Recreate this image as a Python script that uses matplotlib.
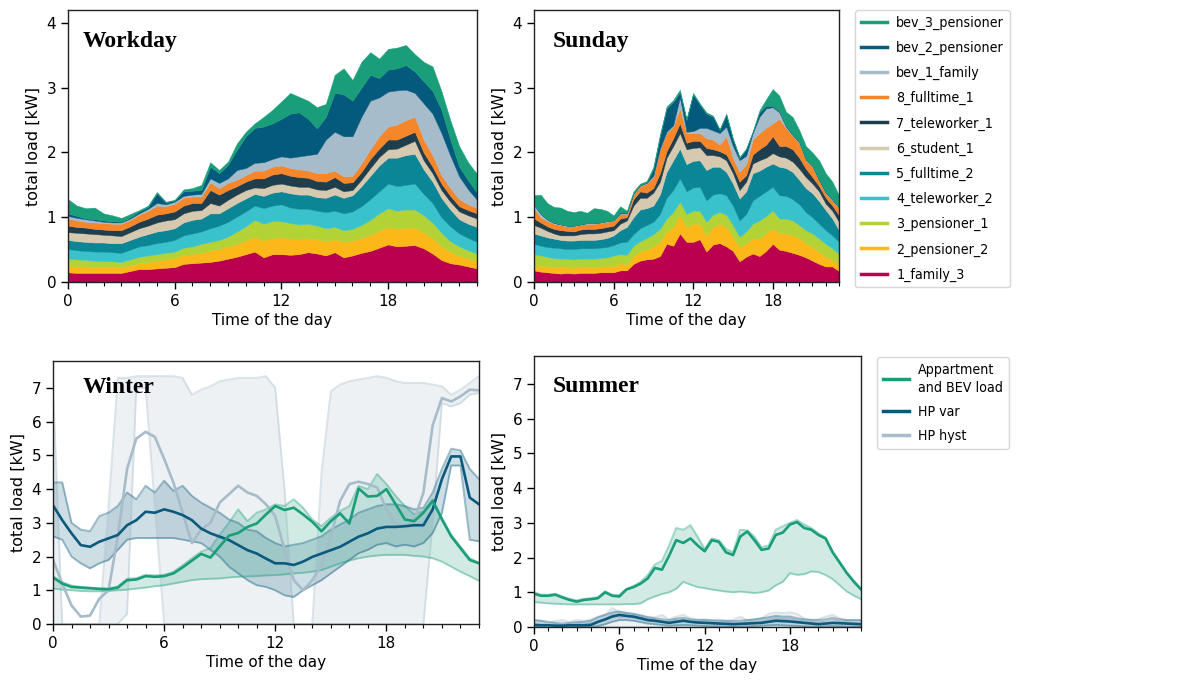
import matplotlib
matplotlib.use("Agg")
import matplotlib.pyplot as plt
from matplotlib.lines import Line2D
from matplotlib.font_manager import FontProperties
import numpy as np

# time axis: half-hourly values 0 .. 23 h
hours = np.arange(0, 23.01, 0.5)

# ---------------- stacked household loads [kW] ----------------
household_names = ['1_family_3', '2_pensioner_2', '3_pensioner_1', '4_teleworker_2',
                   '5_fulltime_2', '6_student_1', '7_teleworker_1', '8_fulltime_1',
                   'bev_1_family', 'bev_2_pensioner', 'bev_3_pensioner']
household_colors = ['#BC0050', '#FBB818', '#B2D235', '#3AC2CC', '#0A8696', '#D7C9AF',
                    '#1E3E4E', '#F5862A', '#A6BCCB', '#045A7D', '#1A9E7A']

wd_family3 = [0.15,0.14,0.14,0.14,0.14,0.14,0.14,0.17,0.20,0.20,0.21,0.22,0.23,0.28,0.29,0.30,0.31,0.33,0.36,0.39,0.43,0.47,0.38,0.43,0.43,0.42,0.43,0.46,0.44,0.41,0.46,0.38,0.41,0.45,0.48,0.53,0.58,0.55,0.56,0.57,0.52,0.44,0.34,0.29,0.27,0.24,0.21]
wd_pensioner2 = [0.10,0.10,0.10,0.09,0.09,0.09,0.09,0.09,0.09,0.11,0.12,0.13,0.14,0.14,0.14,0.15,0.17,0.18,0.19,0.20,0.21,0.23,0.26,0.25,0.26,0.25,0.24,0.22,0.22,0.22,0.20,0.24,0.23,0.23,0.25,0.26,0.27,0.27,0.28,0.27,0.25,0.24,0.21,0.18,0.14,0.13,0.11]
wd_pensioner1 = [0.11,0.11,0.10,0.10,0.09,0.09,0.08,0.09,0.10,0.10,0.10,0.10,0.10,0.11,0.12,0.14,0.14,0.14,0.15,0.19,0.22,0.26,0.26,0.26,0.25,0.24,0.22,0.22,0.21,0.20,0.19,0.18,0.18,0.20,0.23,0.27,0.29,0.28,0.28,0.28,0.26,0.24,0.21,0.16,0.14,0.12,0.12]
wd_teleworker2 = [0.15,0.14,0.14,0.14,0.15,0.14,0.14,0.15,0.16,0.16,0.17,0.17,0.18,0.19,0.20,0.19,0.21,0.22,0.23,0.23,0.23,0.22,0.24,0.24,0.26,0.24,0.24,0.23,0.23,0.25,0.25,0.26,0.27,0.29,0.32,0.34,0.38,0.38,0.38,0.40,0.33,0.30,0.24,0.23,0.20,0.19,0.18]
wd_fulltime2 = [0.14,0.14,0.14,0.14,0.14,0.14,0.15,0.15,0.15,0.17,0.18,0.18,0.18,0.20,0.21,0.20,0.23,0.19,0.21,0.21,0.20,0.18,0.19,0.20,0.20,0.22,0.22,0.22,0.21,0.22,0.25,0.24,0.25,0.31,0.36,0.40,0.40,0.44,0.46,0.46,0.38,0.33,0.30,0.26,0.22,0.22,0.23]
wd_student1 = [0.12,0.13,0.13,0.13,0.12,0.12,0.11,0.12,0.13,0.13,0.14,0.15,0.14,0.14,0.14,0.13,0.16,0.12,0.13,0.13,0.13,0.10,0.12,0.12,0.12,0.12,0.12,0.12,0.12,0.12,0.12,0.10,0.08,0.10,0.12,0.13,0.13,0.14,0.16,0.20,0.14,0.13,0.12,0.12,0.12,0.13,0.13]
wd_teleworker1 = [0.10,0.09,0.09,0.08,0.08,0.08,0.09,0.09,0.10,0.11,0.12,0.11,0.12,0.12,0.12,0.11,0.20,0.17,0.15,0.13,0.13,0.14,0.15,0.16,0.16,0.15,0.15,0.14,0.13,0.13,0.15,0.13,0.12,0.12,0.14,0.13,0.15,0.14,0.14,0.14,0.12,0.10,0.10,0.09,0.08,0.08,0.08]
wd_fulltime1 = [0.11,0.10,0.09,0.10,0.10,0.10,0.10,0.10,0.11,0.12,0.14,0.11,0.12,0.12,0.10,0.10,0.12,0.10,0.11,0.10,0.10,0.12,0.12,0.12,0.12,0.12,0.12,0.11,0.12,0.13,0.10,0.10,0.10,0.13,0.15,0.19,0.20,0.23,0.24,0.23,0.20,0.18,0.13,0.12,0.11,0.09,0.08]
wd_bev1 = [0.04,0.04,0.04,0.03,0.02,0.02,0.02,0.02,0.02,0.03,0.04,0.03,0.03,0.03,0.03,0.04,0.06,0.08,0.07,0.15,0.11,0.12,0.13,0.12,0.14,0.16,0.20,0.24,0.30,0.52,0.60,0.62,0.61,0.72,0.75,0.60,0.54,0.53,0.47,0.37,0.56,0.64,0.65,0.50,0.35,0.23,0.13]
wd_bev2 = [0.04,0.03,0.01,0.02,0.02,0.02,0.01,0.02,0.03,0.03,0.15,0.03,0.02,0.07,0.06,0.06,0.18,0.15,0.21,0.31,0.49,0.54,0.55,0.55,0.58,0.68,0.68,0.56,0.39,0.35,0.60,0.65,0.55,0.45,0.40,0.30,0.34,0.34,0.38,0.33,0.34,0.35,0.36,0.25,0.15,0.14,0.11]
wd_bev3 = [0.22,0.16,0.16,0.18,0.11,0.09,0.06,0.05,0.02,0.02,0.02,0.01,0.01,0.03,0.04,0.08,0.07,0.05,0.05,0.10,0.07,0.07,0.15,0.21,0.27,0.32,0.24,0.28,0.33,0.20,0.28,0.40,0.32,0.40,0.35,0.30,0.32,0.32,0.31,0.27,0.30,0.38,0.29,0.30,0.32,0.28,0.29]

su_family3 = [0.18,0.16,0.15,0.14,0.13,0.14,0.13,0.14,0.14,0.14,0.15,0.15,0.15,0.18,0.18,0.28,0.33,0.35,0.36,0.40,0.59,0.56,0.75,0.62,0.62,0.66,0.47,0.58,0.60,0.55,0.48,0.32,0.39,0.44,0.40,0.48,0.59,0.50,0.48,0.45,0.42,0.38,0.33,0.28,0.24,0.24,0.17]
su_pensioner2 = [0.08,0.09,0.09,0.09,0.10,0.09,0.09,0.09,0.09,0.09,0.09,0.09,0.10,0.11,0.09,0.12,0.14,0.15,0.19,0.22,0.19,0.29,0.28,0.23,0.28,0.24,0.25,0.27,0.30,0.30,0.22,0.22,0.21,0.23,0.27,0.27,0.24,0.26,0.27,0.27,0.26,0.22,0.21,0.19,0.15,0.11,0.09]
su_pensioner1 = [0.17,0.16,0.15,0.14,0.13,0.13,0.13,0.13,0.13,0.13,0.13,0.14,0.16,0.14,0.15,0.16,0.16,0.18,0.19,0.20,0.20,0.23,0.21,0.20,0.20,0.20,0.21,0.19,0.18,0.19,0.18,0.16,0.18,0.23,0.28,0.27,0.28,0.22,0.23,0.23,0.20,0.20,0.21,0.20,0.20,0.17,0.18]
su_teleworker2 = [0.16,0.15,0.15,0.16,0.16,0.15,0.16,0.16,0.16,0.16,0.16,0.16,0.16,0.18,0.20,0.18,0.20,0.20,0.19,0.23,0.32,0.34,0.36,0.35,0.36,0.37,0.33,0.31,0.29,0.30,0.30,0.25,0.27,0.36,0.38,0.38,0.36,0.36,0.35,0.33,0.32,0.28,0.25,0.23,0.21,0.20,0.18]
su_fulltime2 = [0.16,0.16,0.15,0.14,0.13,0.13,0.13,0.13,0.13,0.13,0.13,0.14,0.15,0.19,0.23,0.26,0.29,0.26,0.25,0.30,0.40,0.46,0.46,0.42,0.41,0.41,0.47,0.43,0.41,0.36,0.34,0.34,0.35,0.42,0.39,0.38,0.36,0.44,0.43,0.42,0.38,0.37,0.37,0.35,0.31,0.26,0.18]
su_student1 = [0.13,0.12,0.10,0.08,0.07,0.08,0.08,0.09,0.10,0.10,0.10,0.10,0.08,0.10,0.10,0.18,0.18,0.16,0.20,0.20,0.22,0.22,0.24,0.23,0.20,0.20,0.23,0.18,0.16,0.18,0.16,0.13,0.15,0.15,0.16,0.14,0.16,0.16,0.16,0.16,0.17,0.17,0.15,0.15,0.10,0.12,0.13]
su_teleworker1 = [0.10,0.08,0.07,0.07,0.08,0.07,0.06,0.07,0.07,0.07,0.07,0.07,0.07,0.08,0.05,0.10,0.10,0.08,0.07,0.13,0.10,0.12,0.15,0.10,0.11,0.10,0.11,0.09,0.08,0.09,0.10,0.13,0.10,0.14,0.17,0.20,0.26,0.16,0.18,0.19,0.17,0.13,0.10,0.08,0.09,0.08,0.10]
su_fulltime1 = [0.16,0.08,0.08,0.08,0.08,0.07,0.08,0.08,0.08,0.08,0.08,0.08,0.07,0.07,0.05,0.07,0.08,0.14,0.17,0.37,0.28,0.18,0.23,0.15,0.12,0.12,0.15,0.15,0.10,0.28,0.14,0.15,0.17,0.23,0.25,0.26,0.20,0.42,0.28,0.21,0.23,0.13,0.16,0.08,0.07,0.08,0.11]
su_bev1 = [0.05,0.05,0.02,0.01,0.01,0.01,0.01,0.00,0.01,0.01,0.01,0.01,0.01,0.01,0.01,0.01,0.01,0.01,0.02,0.01,0.02,0.02,0.17,0.02,0.03,0.08,0.16,0.14,0.18,0.15,0.18,0.18,0.13,0.10,0.25,0.30,0.25,0.10,0.02,0.01,0.01,0.01,0.01,0.01,0.01,0.01,0.01]
su_bev2 = [0.01,0.01,0.01,0.01,0.00,0.00,0.00,0.00,0.00,0.00,0.00,0.00,0.01,0.02,0.01,0.01,0.01,0.01,0.10,0.19,0.36,0.36,0.08,0.18,0.57,0.36,0.22,0.21,0.05,0.18,0.10,0.04,0.10,0.02,0.07,0.04,0.02,0.02,0.02,0.01,0.01,0.01,0.01,0.01,0.01,0.01,0.01]
su_bev3 = [0.14,0.29,0.25,0.24,0.26,0.23,0.21,0.21,0.16,0.23,0.21,0.16,0.07,0.09,0.03,0.03,0.02,0.02,0.04,0.03,0.03,0.03,0.04,0.02,0.02,0.02,0.02,0.02,0.01,0.02,0.02,0.01,0.01,0.01,0.03,0.10,0.26,0.24,0.21,0.27,0.18,0.20,0.20,0.30,0.29,0.27,0.18]

# ---------------- seasonal profiles: mean and band [kW] ----------------
season_names = ['Appartment\nand BEV load', 'HP var', 'HP hyst']
season_colors = ['#1A9E79', '#0B5A7E', '#A6BCCA']

wi_app_mean = [1.38,1.20,1.10,1.08,1.06,1.04,1.03,1.08,1.30,1.32,1.42,1.40,1.42,1.50,1.68,1.88,2.08,1.97,2.30,2.62,2.70,2.88,2.98,3.25,3.50,3.38,3.45,3.25,3.03,2.75,3.05,3.28,2.98,4.02,3.78,3.80,4.00,3.55,3.10,3.05,3.30,3.65,3.10,2.60,2.25,1.90,1.80]
wi_app_hi = [1.42,1.24,1.14,1.10,1.08,1.06,1.05,1.12,1.34,1.36,1.46,1.44,1.46,1.55,1.74,1.95,2.15,2.25,2.65,3.00,3.40,3.05,3.30,3.40,3.55,3.50,3.70,3.45,3.10,2.90,3.15,3.35,3.50,4.10,4.00,4.45,4.15,3.80,3.50,3.25,3.35,3.70,3.15,2.65,2.30,1.95,1.82]
wi_app_lo = [1.05,1.02,1.00,0.98,0.97,0.97,0.98,1.00,1.02,1.05,1.08,1.12,1.15,1.20,1.25,1.30,1.33,1.34,1.35,1.38,1.40,1.41,1.42,1.44,1.45,1.47,1.50,1.52,1.55,1.60,1.70,1.80,1.88,1.95,2.00,2.03,2.05,2.05,2.05,2.02,2.00,1.95,1.85,1.70,1.55,1.42,1.28]
wi_var_mean = [3.52,3.08,2.69,2.34,2.29,2.44,2.54,2.64,2.93,3.08,3.33,3.30,3.40,3.33,3.23,3.08,2.83,2.69,2.59,2.49,2.34,2.19,2.09,1.94,1.80,1.80,1.75,1.85,1.99,2.09,2.19,2.29,2.44,2.59,2.69,2.83,2.88,2.88,2.90,2.93,2.93,3.40,4.30,4.97,4.97,3.75,3.55]
wi_var_hi = [4.20,4.20,3.00,2.80,2.75,3.20,3.30,3.50,3.90,3.70,4.10,3.90,4.25,3.95,4.10,3.80,3.60,3.45,3.30,3.10,3.00,2.80,2.75,2.55,2.40,2.30,2.35,2.40,2.50,2.60,2.80,2.95,3.10,3.30,3.40,3.50,3.55,3.55,3.50,3.40,3.45,3.90,4.60,5.20,5.15,4.60,4.30]
wi_var_lo = [2.60,2.50,2.00,1.80,1.65,1.80,1.90,2.20,2.50,2.55,2.55,2.55,2.55,2.55,2.50,2.45,2.40,2.20,2.00,1.70,1.50,1.30,1.15,1.10,1.00,0.85,0.80,1.00,1.15,1.30,1.50,1.70,1.90,2.10,2.20,2.35,2.40,2.30,2.35,2.30,2.40,2.70,3.30,4.70,4.70,2.50,2.45]
wi_hyst_mean = [1.90,1.20,0.55,0.22,0.25,0.75,1.00,2.60,4.60,5.50,5.70,5.55,4.90,4.20,3.30,2.40,2.80,3.00,3.60,3.85,4.10,3.90,3.80,3.55,3.20,2.20,1.30,1.00,1.30,1.75,2.60,3.65,4.15,4.22,4.15,4.05,3.40,2.95,2.85,3.08,3.90,5.90,6.70,6.60,6.75,6.95,6.93]
wi_hyst_hi = [7.10,0.00,0.00,0.00,0.00,0.00,3.50,7.30,7.30,7.35,7.35,7.35,7.35,7.35,7.30,6.80,6.95,7.05,7.20,7.25,7.30,7.30,7.30,7.35,7.00,4.00,0.00,0.00,0.00,4.50,6.90,7.10,7.20,7.25,7.30,7.35,7.30,7.20,7.15,7.15,7.15,7.10,7.05,6.80,6.95,7.15,7.35]
wi_hyst_lo = [0.00,0.00,0.00,0.00,0.00,0.00,0.00,0.00,0.30,7.00,7.00,3.50,0.00,0.00,0.00,0.00,0.00,0.00,0.00,0.00,0.00,0.00,0.00,0.00,0.00,0.00,0.00,0.00,0.00,0.00,0.00,0.00,0.00,0.00,0.00,0.00,0.00,0.00,0.00,0.00,0.00,3.00,6.55,6.45,6.55,6.80,6.85]

sm_app_mean = [0.96,0.90,0.90,0.93,0.85,0.78,0.73,0.78,0.80,0.83,1.00,0.90,0.88,1.08,1.15,1.25,1.40,1.70,1.65,2.05,2.50,2.42,2.55,2.35,2.18,2.50,2.45,2.15,2.07,2.60,2.75,2.50,2.22,2.26,2.65,2.72,2.95,3.02,2.85,2.80,2.65,2.55,2.15,1.85,1.55,1.30,1.08]
sm_app_hi = [1.00,0.93,0.93,0.96,0.88,0.81,0.77,0.81,0.83,0.86,1.03,0.93,0.92,1.10,1.18,1.30,1.50,1.80,1.90,2.35,2.85,2.80,2.93,2.60,2.25,2.55,2.50,2.25,2.15,2.80,2.78,2.60,2.30,2.35,2.80,2.90,3.00,3.08,2.95,2.85,2.70,2.58,2.18,1.88,1.58,1.33,1.10]
sm_app_lo = [0.72,0.70,0.68,0.67,0.66,0.65,0.65,0.65,0.65,0.65,0.65,0.65,0.65,0.66,0.66,0.68,0.80,0.88,0.95,1.00,1.10,1.30,1.22,1.15,1.12,1.08,1.05,1.02,1.00,1.02,1.00,0.98,1.00,1.05,1.20,1.30,1.55,1.50,1.52,1.60,1.58,1.50,1.38,1.20,1.02,0.90,0.80]
sm_var_mean = [0.06,0.05,0.05,0.04,0.04,0.05,0.05,0.05,0.06,0.15,0.22,0.30,0.35,0.32,0.30,0.25,0.20,0.18,0.15,0.12,0.15,0.18,0.15,0.13,0.12,0.11,0.10,0.09,0.08,0.09,0.10,0.11,0.12,0.15,0.18,0.17,0.16,0.14,0.12,0.10,0.08,0.10,0.12,0.11,0.10,0.09,0.08]
sm_var_hi = [0.20,0.18,0.15,0.12,0.10,0.12,0.14,0.15,0.18,0.28,0.35,0.42,0.45,0.40,0.38,0.33,0.28,0.25,0.22,0.20,0.24,0.26,0.22,0.20,0.20,0.19,0.18,0.18,0.17,0.18,0.20,0.22,0.25,0.28,0.32,0.30,0.30,0.25,0.22,0.20,0.20,0.22,0.26,0.22,0.20,0.20,0.20]
sm_var_lo = [0.00,0.00,0.00,0.00,0.00,0.00,0.00,0.00,0.00,0.03,0.08,0.15,0.20,0.20,0.18,0.14,0.10,0.08,0.06,0.04,0.05,0.06,0.05,0.04,0.03,0.02,0.02,0.01,0.01,0.01,0.02,0.03,0.04,0.05,0.06,0.05,0.04,0.03,0.02,0.01,0.01,0.02,0.03,0.02,0.01,0.01,0.01]
sm_hyst_mean = [0.08,0.05,0.03,0.05,0.08,0.04,0.08,0.06,0.10,0.15,0.20,0.35,0.30,0.32,0.28,0.25,0.22,0.18,0.20,0.15,0.18,0.22,0.18,0.15,0.14,0.12,0.12,0.10,0.12,0.15,0.12,0.14,0.15,0.20,0.25,0.22,0.25,0.20,0.15,0.14,0.16,0.20,0.25,0.18,0.12,0.10,0.10]
sm_hyst_hi = [0.20,0.18,0.10,0.18,0.20,0.15,0.20,0.18,0.22,0.30,0.35,0.55,0.42,0.42,0.38,0.35,0.30,0.28,0.35,0.22,0.30,0.35,0.25,0.22,0.22,0.20,0.22,0.18,0.20,0.30,0.20,0.22,0.25,0.38,0.42,0.40,0.42,0.38,0.25,0.22,0.22,0.30,0.35,0.25,0.20,0.20,0.20]
sm_hyst_lo = [0.00,0.00,0.00,0.00,0.00,0.00,0.00,0.00,0.00,0.00,0.00,0.00,0.00,0.00,0.00,0.00,0.00,0.00,0.00,0.00,0.00,0.00,0.00,0.00,0.00,0.00,0.00,0.00,0.00,0.00,0.00,0.00,0.00,0.00,0.00,0.00,0.00,0.00,0.00,0.00,0.00,0.00,0.00,0.00,0.00,0.00,0.00]

workday = [wd_family3, wd_pensioner2, wd_pensioner1, wd_teleworker2, wd_fulltime2, wd_student1,
           wd_teleworker1, wd_fulltime1, wd_bev1, wd_bev2, wd_bev3]
sunday = [su_family3, su_pensioner2, su_pensioner1, su_teleworker2, su_fulltime2, su_student1,
          su_teleworker1, su_fulltime1, su_bev1, su_bev2, su_bev3]
winter = [(wi_app_mean, wi_app_lo, wi_app_hi), (wi_var_mean, wi_var_lo, wi_var_hi),
          (wi_hyst_mean, wi_hyst_lo, wi_hyst_hi)]
summer = [(sm_app_mean, sm_app_lo, sm_app_hi), (sm_var_mean, sm_var_lo, sm_var_hi),
          (sm_hyst_mean, sm_hyst_lo, sm_hyst_hi)]

TITLE_FONT = dict(family='Liberation Serif', weight='bold', size=17)
# the legend text in the original is narrow; use the condensed face
LEGEND_FONT = FontProperties(family='DejaVu Sans', stretch='condensed', size=10.2)


def style_axis(ax, ymax, yticks):
    ax.set_xlim(0, 23)
    ax.set_ylim(0, ymax)
    ax.set_xticks([0, 6, 12, 18])
    ax.set_xticks(range(0, 24), minor=True)
    ax.set_yticks(yticks)
    ax.tick_params(axis='both', which='major', labelsize=11, length=5, width=1)
    ax.tick_params(axis='x', which='minor', length=3, width=0.8)
    ax.tick_params(axis='y', which='minor', left=False)
    for sp in ax.spines.values():
        sp.set_linewidth(1.0)
        sp.set_color('#222222')
    ax.set_xlabel('Time of the day', fontsize=11, labelpad=3)
    ax.set_ylabel('total load [kW]', fontsize=11.5, labelpad=4)


def draw_bands(ax, season):
    # bands first (hyst at the back), then the mean lines
    for (mean, lo, hi), col in reversed(list(zip(season, season_colors))):
        ax.fill_between(hours, lo, hi, color=col, alpha=0.2, linewidth=0)
        ax.plot(hours, lo, color=col, alpha=0.4, lw=1.4)
        ax.plot(hours, hi, color=col, alpha=0.4, lw=1.4)
    for (mean, lo, hi), col in reversed(list(zip(season, season_colors))):
        ax.plot(hours, mean, color=col, lw=1.9)


fig = plt.figure(figsize=(11.88, 6.87), dpi=100)

ax_wd = fig.add_axes([0.0572, 0.5895, 0.3443, 0.3959])
ax_su = fig.add_axes([0.4495, 0.5895, 0.2567, 0.3959])
ax_wi = fig.add_axes([0.0446, 0.0917, 0.3586, 0.3828])
ax_sm = fig.add_axes([0.4495, 0.0873, 0.2753, 0.3945])

for ax, data in [(ax_wd, workday), (ax_su, sunday)]:
    ax.stackplot(hours, *data, colors=household_colors, edgecolor='face', linewidth=0.3)
    style_axis(ax, 4.2, [0, 1, 2, 3, 4])

draw_bands(ax_wi, winter)
draw_bands(ax_sm, summer)
style_axis(ax_wi, 7.8, range(0, 8))
style_axis(ax_sm, 7.8, range(0, 8))

ax_wd.text(0.036, 0.885, 'Workday', transform=ax_wd.transAxes, va='center', **TITLE_FONT)
ax_su.text(0.062, 0.885, 'Sunday', transform=ax_su.transAxes, va='center', **TITLE_FONT)
ax_wi.text(0.07, 0.90, 'Winter', transform=ax_wi.transAxes, va='center', **TITLE_FONT)
ax_sm.text(0.058, 0.886, 'Summer', transform=ax_sm.transAxes, va='center', **TITLE_FONT)

# legends with line handles, top entry = top layer
hh = [Line2D([], [], color=c, lw=2.5) for c in household_colors][::-1]
fig.legend(hh, household_names[::-1], loc='upper left', bbox_to_anchor=(855 / 1188, 1 - 10 / 687),
           borderaxespad=0, prop=LEGEND_FONT, labelspacing=0.78, handlelength=1.85,
           handletextpad=0.65, borderpad=0.4)

sh = [Line2D([], [], color=c, lw=2.5) for c in season_colors]
leg2 = fig.legend(sh, season_names, loc='upper left', bbox_to_anchor=(877 / 1188, 1 - 357 / 687),
                  borderaxespad=0, prop=LEGEND_FONT, labelspacing=0.72, handlelength=1.85,
                  handletextpad=0.65, borderpad=0.4)
leg2.get_texts()[0].set_linespacing(1.35)

fig.savefig('out.png', dpi=100)
